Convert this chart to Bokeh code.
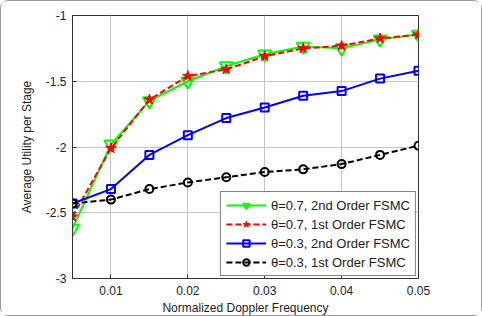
from bokeh.plotting import figure
from bokeh.models import FixedTicker, Legend, LegendItem
from bokeh.embed import file_html
from bokeh.resources import INLINE

# Normalized Doppler frequency samples
doppler = [0.005, 0.01, 0.015, 0.02, 0.025, 0.03, 0.035, 0.04, 0.045, 0.05]

# Average utility per stage for each scheme
theta07_2nd = [-2.62, -1.98, -1.65, -1.50, -1.385, -1.295, -1.235, -1.25, -1.18, -1.145]
theta07_1st = [-2.53, -2.01, -1.64, -1.46, -1.41, -1.31, -1.25, -1.23, -1.175, -1.145]
theta03_2nd = [-2.43, -2.32, -2.06, -1.91, -1.78, -1.70, -1.61, -1.575, -1.48, -1.42]
theta03_1st = [-2.43, -2.40, -2.32, -2.27, -2.23, -2.19, -2.17, -2.13, -2.06, -1.99]

labels = [
    "\u03b8=0.7, 2nd Order FSMC",
    "\u03b8=0.7, 1st Order FSMC",
    "\u03b8=0.3, 2nd Order FSMC",
    "\u03b8=0.3, 1st Order FSMC",
]

x_ticks = [0.01, 0.02, 0.03, 0.04, 0.05]
y_ticks = [-3, -2.5, -2, -1.5, -1]
y_tick_labels = ["-3", "-2.5", "-2", "-1.5", "-1"]

FONT = "Liberation Sans"

p = figure(
    width=482, height=316,
    x_range=(0.005, 0.05), y_range=(-3, -1),
    output_backend="svg", toolbar_location=None,
    min_border_left=71, min_border_right=65,
    min_border_top=14, min_border_bottom=37,
    background_fill_color="white", border_fill_color="white",
    outline_line_color="#333333", outline_line_width=1,
)
p.styles = {"border": "1px solid #9a9a9a", "border-radius": "8px", "box-sizing": "border-box"}

for ax in (p.xaxis, p.yaxis):
    ax.major_tick_in = 4
    ax.major_tick_out = 0
    ax.minor_tick_in = 0
    ax.minor_tick_out = 0
    ax.axis_line_color = "#333333"
    ax.major_tick_line_color = "#333333"
    ax.major_label_text_font = FONT
    ax.major_label_text_font_size = "12px"
    ax.major_label_text_color = "#222222"
    ax.axis_label_text_font = FONT
    ax.axis_label_text_font_size = "12px"
    ax.axis_label_text_font_style = "normal"
    ax.axis_label_text_color = "#222222"

p.xaxis.ticker = FixedTicker(ticks=x_ticks)
p.yaxis.ticker = FixedTicker(ticks=y_ticks)
p.yaxis.major_label_overrides = {t: s for t, s in zip(y_ticks, y_tick_labels)}
p.xaxis.axis_label = "Normalized Doppler Frequency"
p.yaxis.axis_label = "Average Utility per Stage"
p.xaxis.major_label_standoff = 7
p.xaxis.axis_label_standoff = 3
p.yaxis.major_label_standoff = 6
p.yaxis.axis_label_standoff = 9

p.grid.grid_line_color = "#c4c4c4"
p.grid.grid_line_width = 1
p.grid.grid_line_alpha = 1

# Series: line + marker
l1 = p.line(doppler, theta07_2nd, line_color="#00ff00", line_width=2)
m1 = p.scatter(doppler, theta07_2nd, marker="inverted_triangle", size=13,
               line_color="#00ff00", fill_color=None, line_width=2)

l2 = p.line(doppler, theta07_1st, line_color="#ff0000", line_width=2, line_dash="6 3")
m2 = p.scatter(doppler, theta07_1st, marker="star", size=11,
               line_color="#ff0000", fill_color="#ff0000", line_width=1)

l3 = p.line(doppler, theta03_2nd, line_color="#0000ff", line_width=2)
m3 = p.scatter(doppler, theta03_2nd, marker="square", size=8,
               line_color="#0000ff", fill_color=None, line_width=2)

l4 = p.line(doppler, theta03_1st, line_color="#000000", line_width=2, line_dash="6 3")
m4 = p.scatter(doppler, theta03_1st, marker="circle", size=8,
               line_color="#000000", fill_color=None, line_width=2)

legend = Legend(
    items=[
        LegendItem(label=labels[0], renderers=[l1, m1]),
        LegendItem(label=labels[1], renderers=[l2, m2]),
        LegendItem(label=labels[2], renderers=[l3, m3]),
        LegendItem(label=labels[3], renderers=[l4, m4]),
    ],
    location="bottom_right",
    label_text_font=FONT,
    label_text_font_size="13px",
    label_text_color="#222222",
    glyph_width=40, glyph_height=16,
    label_standoff=5,
    spacing=3,
    padding=5,
    margin=2,
    border_line_color="#000000", border_line_width=1,
    background_fill_color="white", background_fill_alpha=1,
)
p.add_layout(legend)

open("out.html", "w").write(file_html(p, INLINE))
